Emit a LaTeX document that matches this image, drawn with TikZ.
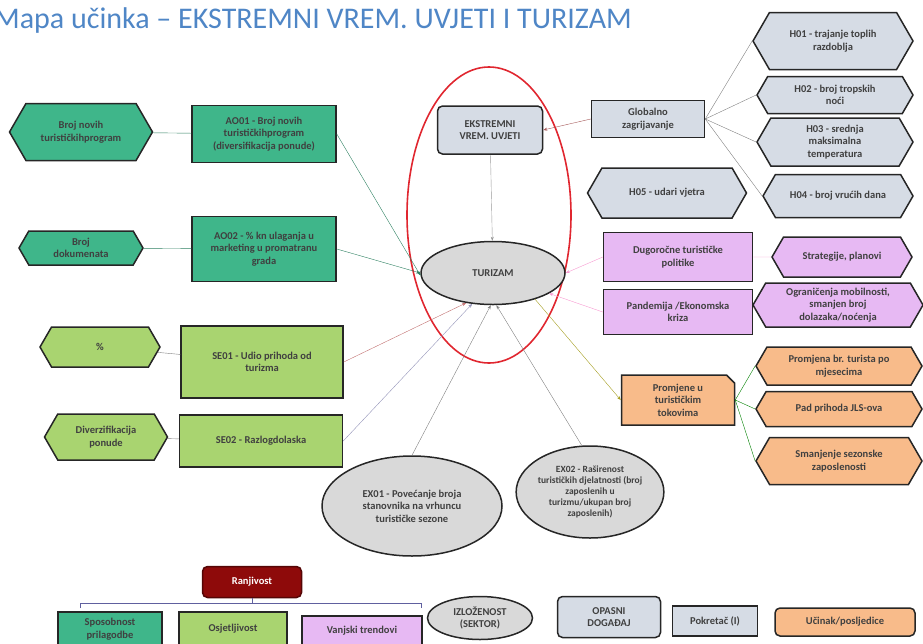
\documentclass[tikz,border=0pt]{standalone}
\usepackage{fontspec}
\setmainfont{Carlito}
\usepackage{xcolor}
\usetikzlibrary{arrows.meta, positioning, shapes.geometric, shapes.symbols, shapes.misc}
\definecolor{aogreen}{HTML}{3FB68A}
\definecolor{segreen}{HTML}{A9D470}
\definecolor{polpink}{HTML}{E7B9F3}
\definecolor{outorange}{HTML}{F8BB8A}
\definecolor{hazgray}{HTML}{D6DCE5}
\definecolor{turgray}{HTML}{D9D9D9}
\definecolor{ranjred}{HTML}{8E0A0A}
\definecolor{titleblue}{HTML}{4F86C6}
\definecolor{ringred}{HTML}{E0262F}

\begin{document}
\begin{tikzpicture}[
    x=1pt, y=-1pt,
    box/.style={draw=black!85, line width=1.5pt, align=center, inner sep=1pt,
                font=\fontsize{10.5}{12.5}\selectfont\bfseries, text=black!75},
    sz/.style 2 args={minimum width=#1pt, minimum height=#2pt},
    hexa/.style={box, signal, signal to=west and east, signal pointer angle=120},
    oval/.style={box, ellipse},
    arr/.style={-{Stealth[length=4pt, width=3pt]}, line width=0.4pt},
    link/.style={line width=0.4pt},
  ]
  \useasboundingbox (0,0) rectangle (923,643);

  % Title
  \node[anchor=west, font=\fontsize{30}{33}\selectfont, text=titleblue, inner sep=0pt]
    (title) at (-6,20) {Mapa učinka – EKSTREMNI VREM. UVJETI I TURIZAM};

  % Adaptive capacity (left)
  \node[hexa, fill=aogreen, sz={143}{57}] (novih) at (81,132) {Broj novih\\turističkihprogram};
  \node[box, fill=aogreen, sz={144}{57}] (ao01) at (264,134) {AO01 - Broj novih\\turističkihprogram\\(diversifikacija ponude)};
  \node[hexa, fill=aogreen, sz={124}{34}] (dok) at (81,248) {Broj\\dokumenata};
  \node[box, fill=aogreen, sz={144}{65}] (ao02) at (264,249) {AO02 - \% kn ulaganja u\\marketing u promatranu\\grada};

  % Sensitivity (left)
  \node[hexa, fill=segreen, sz={120}{40}] (pct) at (100,347) {\%};
  \node[box, fill=segreen, sz={162}{72}] (se01) at (262,362) {SE01 - Udio prihoda od\\turizma};
  \node[hexa, fill=segreen, sz={123}{46}] (div) at (106,437) {Diverzifikacija\\ponude};
  \node[box, fill=segreen, sz={163}{52}] (se02) at (261,441) {SE02 - Razlogdolaska};

  % Centre
  \node[ellipse, draw=ringred, line width=1.6pt, sz={164}{296}] (ring) at (489,215) {};
  \node[box, fill=hazgray, rounded corners=5pt, sz={105}{48}]
    (ekst) at (490,130) {EKSTREMNI\\VREM. UVJETI};
  \node[oval, fill=turgray, sz={144}{63}] (tur) at (493,273) {TURIZAM};

  % Hazards (right)
  \node[box, fill=hazgray, sz={113}{37}] (glob) at (648,119) {Globalno\\zagrijavanje};
  \node[hexa, fill=hazgray, sz={160}{57}] (h01) at (833,41) {H01 - trajanje toplih\\razdoblja};
  \node[hexa, fill=hazgray, sz={156}{37}] (h02) at (835,95) {H02 - broj tropskih\\noći};
  \node[hexa, fill=hazgray, sz={156}{48}] (h03) at (835,142) {H03 - srednja\\maksimalna\\temperatura};
  \node[hexa, fill=hazgray, sz={150}{43}] (h04) at (838,196) {H04 - broj vrućih dana};
  \node[hexa, fill=hazgray, sz={159}{50}] (h05) at (667,193) {H05 - udari vjetra};

  % External trends (right)
  \node[box, fill=polpink, sz={149}{49}] (dug) at (678,257) {Dugoročne turističke\\politike};
  \node[hexa, fill=polpink, sz={140}{40}] (strat) at (842,257) {Strategije, planovi};
  \node[box, fill=polpink, sz={149}{45}] (pand) at (678,312) {Pandemija /Ekonomska\\kriza};
  \node[hexa, fill=polpink, sz={170}{44}] (ogr) at (838,305) {Ograničenja mobilnosti,\\smanjen broj\\dolazaka/noćenja};

  % Impacts (right)
  \node[box, fill=outorange, chamfered rectangle, chamfered rectangle corners=north east,
        chamfered rectangle xsep=4pt, chamfered rectangle ysep=4pt, sz={113}{50}]
    (prom) at (678,400) {Promjene u\\turističkim\\tokovima};
  \node[hexa, fill=outorange, sz={166}{38}] (pbr) at (839,366) {Promjena br. turista po\\mjesecima};
  \node[hexa, fill=outorange, sz={166}{35}] (pad) at (839,409) {Pad prihoda JLS-ova};
  \node[hexa, fill=outorange, sz={166}{47}] (sman) at (839,461) {Smanjenje sezonske\\zaposlenosti};

  % Exposure (bottom)
  \node[oval, fill=turgray, sz={180}{100}] (ex01) at (412,506) {EX01 - Povećanje broja\\stanovnika na vrhuncu\\turističke sezone};
  \node[oval, fill=turgray, sz={142}{92}, inner sep=0pt, font=\fontsize{9.5}{11}\selectfont\bfseries]
    (ex02) at (590,492) {EX02 - Raširenost\\turističkih djelatnosti (broj\\zaposlenih u\\turizmu/ukupan broj\\zaposlenih)};

  % Connectors
  \draw[link, aogreen!70!black] (novih) -- (ao01);
  \draw[link, aogreen!70!black] (dok) -- (ao02);
  \draw[link, gray] (pct) -- (se01);
  \draw[link, gray] (div) -- (se02);
  \draw[arr, aogreen!70!black] (ao01.east) -- (tur.182);
  \draw[arr, aogreen!70!black] (ao02.east) -- (tur.west);
  \draw[arr, red!40!gray!80] (se01.east) -- (tur.228);
  \draw[arr, blue!20!gray!70] (se02.east) -- (tur.236);
  \draw[arr, gray] (ex01.north) -- (tur.266);
  \draw[arr, gray] (ex02.100) -- (tur.276);
  \draw[arr, gray!80] (ekst) -- (tur);
  \draw[arr, red!30!gray] (glob.west) -- (ekst.east);
  \draw[link, gray] (glob.east) -- (h01.west);
  \draw[link, gray] (glob.east) -- (h02.west);
  \draw[link, gray] (glob.east) -- (h03.west);
  \draw[link, gray] (glob.east) -- (h04.west);
  \draw[arr, magenta!40] (dug.west) -- (tur.east);
  \draw[arr, magenta!40] (pand.west) -- (tur.340);
  \draw[link, magenta!40] (dug) -- (strat);
  \draw[link, magenta!40] (pand) -- (ogr);
  \draw[arr, olive!80] (tur.328) -- (prom.west);
  \draw[link, green!50!black] (prom.east) -- (pbr.west);
  \draw[link, green!50!black] (prom.east) -- (pad.west);
  \draw[link, green!50!black] (prom.east) -- (sman.west);

  % Legend
  \node[box, fill=ranjred, draw=ranjred!60!black, rounded corners=5pt, text=white, sz={99}{31}] (ranj) at (252,582) {Ranjivost};
  \node[box, fill=aogreen, sz={104}{34}] (spos) at (110,629) {Sposobnost\\prilagodbe};
  \node[box, fill=segreen, sz={108}{34}] (osj) at (233,629) {Osjetljivost};
  \node[box, fill=polpink, sz={120}{30}] (vanj) at (362,631) {Vanjski trendovi};
  \node[oval, fill=turgray, sz={105}{43}, inner sep=0pt] (izl) at (480,618) {IZLOŽENOST\\(SEKTOR)};
  \node[box, fill=hazgray, rounded corners=5pt, sz={103}{41}] (opas) at (609,617) {OPASNI\\DOGAĐAJ};
  \node[box, fill=hazgray, sz={85}{30}] (pokr) at (715,621) {Pokretač (I)};
  \node[box, fill=outorange, rounded corners=5pt, sz={140}{28}] (ucin) at (845,622) {Učinak/posljedice};
  \coordinate (brl) at (80,603);
  \coordinate (brr) at (421,603);
  \draw[line width=1pt, blue!25!gray] ([yshift=-5pt]brl) -- (brl) -- (brr) -- ([yshift=-5pt]brr);
  \draw[line width=1pt, blue!25!gray] (ranj.south) -- (ranj.south |- brl);

\end{tikzpicture}
\end{document}
